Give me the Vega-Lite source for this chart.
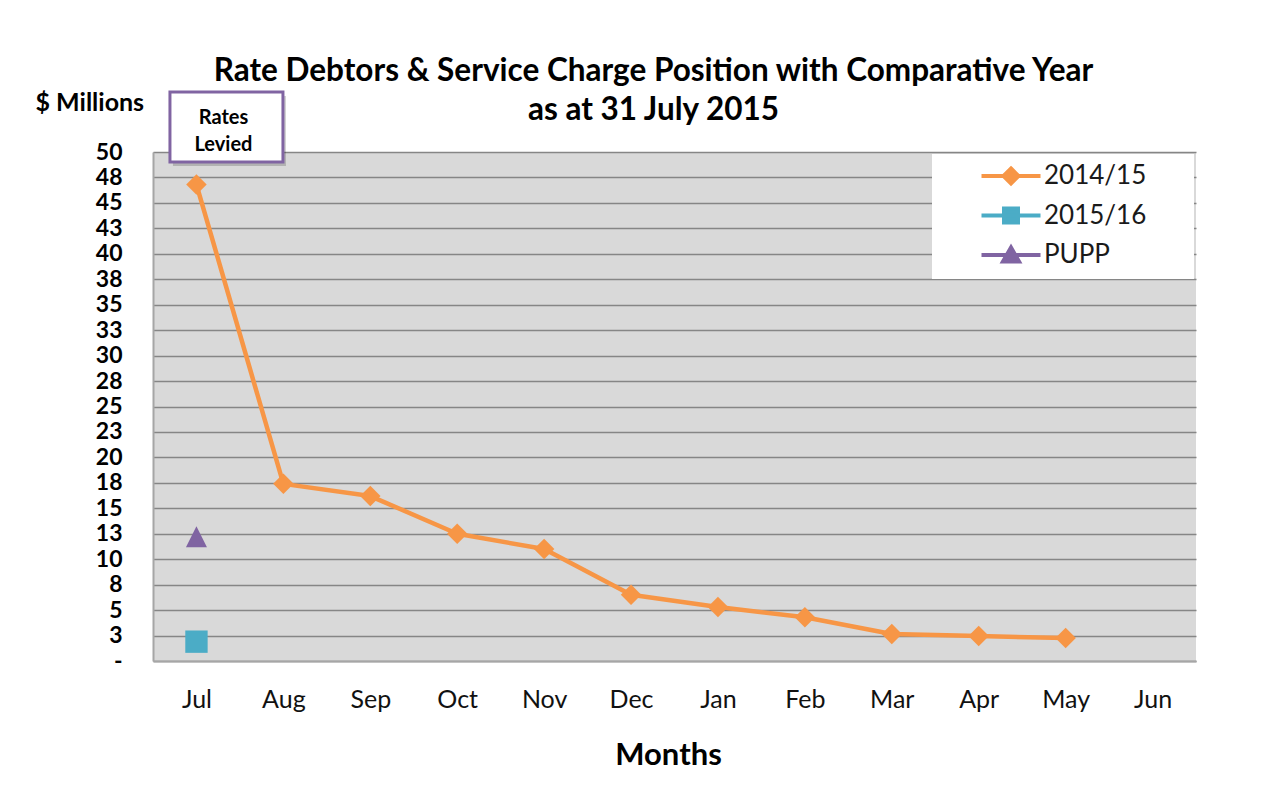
{
  "$schema": "https://vega.github.io/schema/vega-lite/v6.json",
  "width": 1043,
  "height": 509,
  "autosize": {"type": "none"},
  "padding": {"left": 153, "top": 152, "right": 69, "bottom": 126},
  "background": "white",
  "title": {
    "text": ["Rate Debtors & Service Charge Position with Comparative Year", "as at 31 July 2015"],
    "font": "Lato",
    "fontSize": 31.5,
    "fontWeight": "bold",
    "color": "#000000",
    "lineHeight": 39,
    "anchor": "middle",
    "frame": "group",
    "dx": -21,
    "dy": 56,
    "offset": 20
  },
  "datasets": {
    "debtors": [
      {"series": "2014/15", "month": "Jul", "value": 46.8},
      {"series": "2014/15", "month": "Aug", "value": 17.4},
      {"series": "2014/15", "month": "Sep", "value": 16.2},
      {"series": "2014/15", "month": "Oct", "value": 12.5},
      {"series": "2014/15", "month": "Nov", "value": 11.0},
      {"series": "2014/15", "month": "Dec", "value": 6.5},
      {"series": "2014/15", "month": "Jan", "value": 5.3},
      {"series": "2014/15", "month": "Feb", "value": 4.3},
      {"series": "2014/15", "month": "Mar", "value": 2.65},
      {"series": "2014/15", "month": "Apr", "value": 2.45},
      {"series": "2014/15", "month": "May", "value": 2.25},
      {"series": "2015/16", "month": "Jul", "value": 1.9},
      {"series": "PUPP", "month": "Jul", "value": 12.2}
    ],
    "notes": [
      {"month": "Jul", "value": 52.46, "label": "Rates\nLevied"}
    ]
  },
  "data": {"name": "debtors"},
  "config": {
    "font": "Lato",
    "view": {"fill": "#D9D9D9", "stroke": null},
    "legend": {
      "orient": "none",
      "legendX": 779,
      "legendY": 2,
      "title": null,
      "fillColor": "#FFFFFF",
      "padding": 9,
      "labelFont": "Lato",
      "labelFontSize": 26,
      "labelColor": "#1a1a1a",
      "symbolSize": 400,
      "symbolStrokeWidth": 4,
      "symbolOffset": 57,
      "labelOffset": 20,
      "rowPadding": 8.5
    }
  },
  "encoding": {
    "x": {
      "field": "month",
      "type": "nominal",
      "scale": {"type": "point", "padding": 0.5, "domain": ["Jul", "Aug", "Sep", "Oct", "Nov", "Dec", "Jan", "Feb", "Mar", "Apr", "May", "Jun"]},
      "axis": {
        "title": "Months",
        "titleFont": "Lato",
        "titleFontSize": 31,
        "titleFontWeight": "bold",
        "titleColor": "#000000",
        "titlePadding": 28,
        "titleX": 515,
        "labelAngle": 0,
        "labelFont": "Lato",
        "labelFontSize": 25,
        "labelColor": "#111111",
        "labelPadding": 26,
        "ticks": false,
        "tickSize": 0,
        "grid": false,
        "domainColor": "#A6A6A6",
        "domainWidth": 2
      }
    },
    "y": {
      "field": "value",
      "type": "quantitative",
      "scale": {"domain": [0, 50], "nice": false, "zero": true},
      "axis": {
        "title": "$ Millions",
        "titleAngle": 0,
        "titleAlign": "left",
        "titleBaseline": "alphabetic",
        "titleX": -118,
        "titleY": -42,
        "titleFont": "Lato",
        "titleFontSize": 25,
        "titleFontWeight": "bold",
        "titleColor": "#000000",
        "values": [0, 2.5, 5, 7.5, 10, 12.5, 15, 17.5, 20, 22.5, 25, 27.5, 30, 32.5, 35, 37.5, 40, 42.5, 45, 47.5, 50],
        "labelExpr": "datum.value == 0 ? '-\u00a0\u00a0\u00a0' : format(round(datum.value), 'd')",
        "labelFont": "Lato",
        "labelFontSize": 23,
        "labelFontWeight": "bold",
        "labelColor": "#000000",
        "labelPadding": 31,
        "ticks": false,
        "tickSize": 0,
        "grid": true,
        "gridColor": "#868686",
        "gridWidth": 1.4,
        "domainColor": "#A6A6A6",
        "domainWidth": 2
      }
    }
  },
  "layer": [
    {
      "transform": [{"filter": "datum.series == '2014/15'"}],
      "mark": {"type": "line", "strokeWidth": 4.5, "strokeJoin": "round"},
      "encoding": {
        "color": {"field": "series", "type": "nominal", "legend": null,
          "scale": {"range": ["#F79646", "#4BACC6", "#8064A2"]}}
      }
    },
    {
      "transform": [{"filter": "datum.series == '2014/15'"}],
      "mark": {"type": "point", "shape": "diamond", "size": 420, "filled": true, "opacity": 1},
      "encoding": {"color": {"field": "series", "type": "nominal", "legend": null}}
    },
    {
      "transform": [{"filter": "datum.series == '2015/16'"}],
      "mark": {"type": "point", "shape": "square", "size": 500, "filled": true, "opacity": 1},
      "encoding": {"color": {"field": "series", "type": "nominal", "legend": null}}
    },
    {
      "transform": [{"filter": "datum.series == 'PUPP'"}],
      "mark": {"type": "point", "shape": "M0,-1L1,1L-1,1Z", "size": 441, "filled": true, "opacity": 1},
      "encoding": {"color": {"field": "series", "type": "nominal", "legend": null}}
    },
    {
      "transform": [{"filter": "false"}],
      "mark": {"type": "point", "filled": true, "size": 400, "strokeWidth": 4, "opacity": 1},
      "encoding": {
        "fill": {"field": "series", "type": "nominal",
          "scale": {"domain": ["2014/15", "2015/16", "PUPP"], "range": ["#F79646", "#4BACC6", "#8064A2"]},
          "legend": {"labelExpr": "datum.label + '\u2800\u2800'"}},
        "stroke": {"field": "series", "type": "nominal",
          "scale": {"domain": ["2014/15", "2015/16", "PUPP"], "range": ["#F79646", "#4BACC6", "#8064A2"]}},
        "shape": {"field": "series", "type": "nominal",
          "scale": {"domain": ["2014/15", "2015/16", "PUPP"],
            "range": ["M-2.95,0L2.95,0M0,-0.75L0.75,0L0,0.75L-0.75,0Z", "M-2.95,0L2.95,0M-0.7,-0.7L0.7,-0.7L0.7,0.7L-0.7,0.7Z", "M-2.95,0L2.95,0M0,-0.75L0.8,0.65L-0.8,0.65Z"]}}
      }
    },
    {
      "data": {"name": "notes"},
      "mark": {"type": "rect", "width": 113, "height": 70, "xOffset": 33, "yOffset": 4, "color": "#000000", "opacity": 0.18},
      "encoding": {"y": {"field": "value", "type": "quantitative"}}
    },
    {
      "data": {"name": "notes"},
      "mark": {"type": "rect", "width": 113, "height": 70, "xOffset": 30, "fill": "#FFFFFF", "stroke": "#8064A2", "strokeWidth": 3},
      "encoding": {"y": {"field": "value", "type": "quantitative"}}
    },
    {
      "data": {"name": "notes"},
      "mark": {"type": "text", "font": "Lato", "fontSize": 20, "fontWeight": "bold", "color": "#000000", "lineBreak": "\n", "lineHeight": 27, "xOffset": 27, "dy": -9, "baseline": "middle", "align": "center"},
      "encoding": {"y": {"field": "value", "type": "quantitative"}, "text": {"field": "label"}}
    }
  ]
}
